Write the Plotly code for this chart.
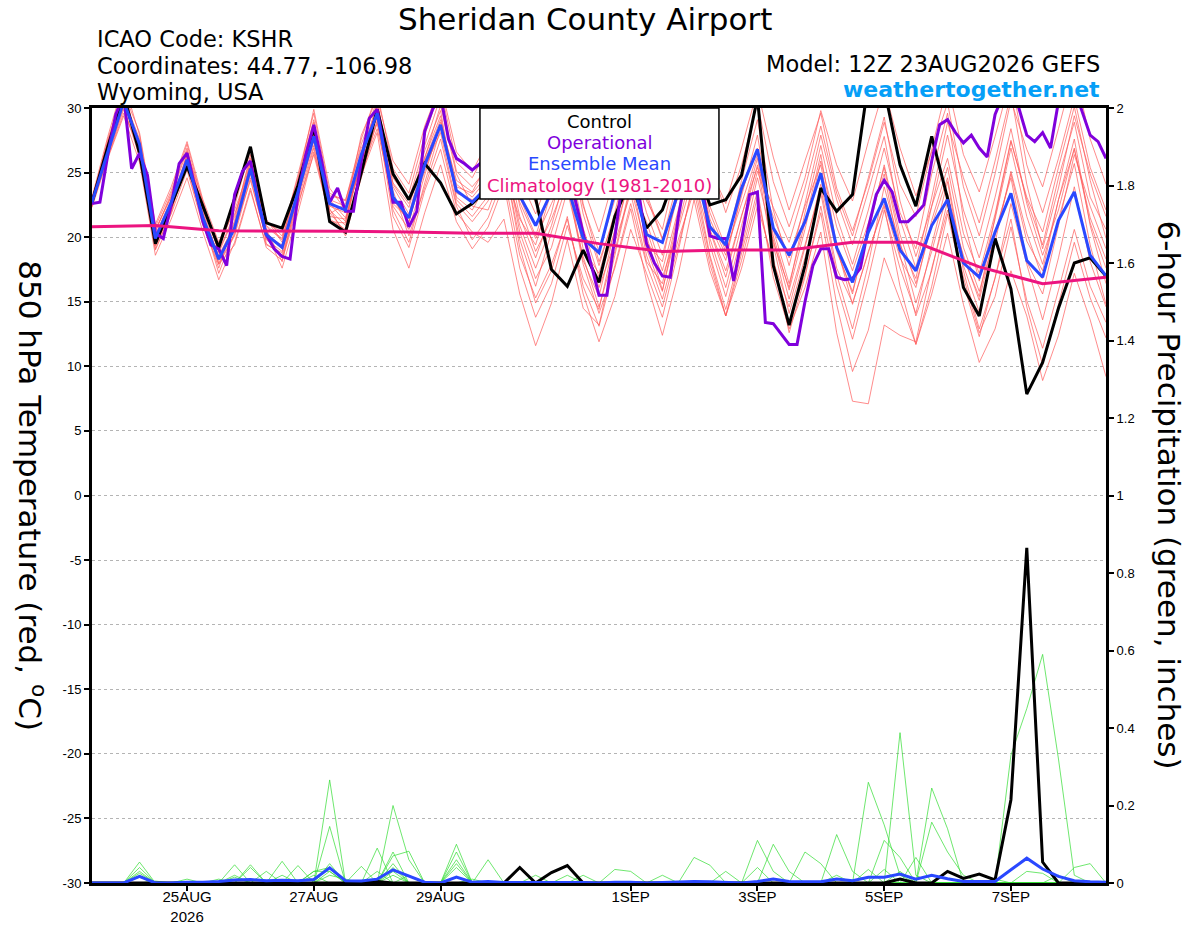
"""
Sheridan County Airport - GEFS 850 hPa temperature / 6-hour precipitation plume
"""

import pandas as pd
import plotly.graph_objects as go

FONT = 'Liberation Sans, Arial, Helvetica, sans-serif'
WIDE = 'DejaVu Sans, Verdana, sans-serif'

# forecast times: 12Z 23AUG2026, 6-hourly out to 384 h
times = pd.date_range('2026-08-23 12:00', periods=65, freq='6h')
# operational run is 3-hourly
times_op = pd.date_range('2026-08-23 12:00', periods=129, freq='3h')
# climatology is one value per day (12Z)
times_clim = pd.date_range('2026-08-23 12:00', periods=17, freq='24h')

tick_vals = ['2026-08-25', '2026-08-27', '2026-08-29', '2026-09-01',
             '2026-09-03', '2026-09-05', '2026-09-07']
tick_text = ['25AUG<br>2026', '27AUG', '29AUG', '1SEP', '3SEP', '5SEP', '7SEP']

temp_ticks = [30, 25, 20, 15, 10, 5, 0, -5, -10, -15, -20, -25, -30]

# ---- 850 hPa temperature (C) ----
control_temp = [22.7, 27.0, 31.0, 26.5, 19.5, 22.5, 25.5, 22.4, 19.2, 23.0,
                27.0, 21.1, 20.7, 24.0, 28.5, 21.2, 20.4, 25.0, 29.9, 24.9,
                22.9, 25.7, 24.2, 21.8, 22.6, 23.8, 24.5, 25.0, 23.0, 17.5,
                16.2, 19.0, 16.5, 21.6, 24.5, 20.7, 22.1, 25.5, 26.0, 22.5,
                22.9, 24.8, 30.8, 17.8, 13.2, 17.8, 23.8, 22.0, 23.3, 32.0,
                31.5, 25.6, 22.4, 27.8, 23.0, 16.1, 13.9, 19.9, 16.0, 7.85,
                10.3, 14.5, 18.0, 18.4, 17.0]

mean_temp = [22.7, 26.6, 30.5, 27.2, 19.9, 22.7, 26.0, 21.5, 18.3, 20.7,
             25.3, 20.2, 19.2, 23.5, 27.8, 22.6, 22.1, 26.4, 29.6, 23.1,
             21.5, 25.6, 28.7, 23.6, 22.7, 24.0, 24.5, 23.2, 20.9, 23.5,
             24.0, 19.9, 18.8, 23.5, 25.0, 20.2, 19.6, 23.5, 25.5, 20.8,
             19.4, 23.8, 26.8, 20.7, 18.6, 21.2, 24.95, 19.2, 16.5, 20.4,
             23.0, 19.0, 17.4, 20.9, 22.9, 18.0, 16.9, 20.4, 23.4, 18.2,
             16.9, 21.3, 23.5, 18.6, 17.0]

operational_temp = [22.6, 22.7, 26.4, 29.5, 31.0, 25.3, 26.5, 24.8, 20.3, 19.9,
                    22.5, 25.7, 26.5, 23.8, 21.2, 19.4, 19.1, 17.8, 23.3, 25.1,
                    25.9, 22.7, 20.2, 19.1, 18.5, 18.3, 23.3, 26.4, 28.7, 25.9,
                    22.7, 23.8, 22.0, 22.0, 25.9, 29.2, 29.9, 26.4, 22.7, 22.7,
                    20.8, 22.0, 28.2, 29.9, 31.0, 27.6, 26.1, 25.7, 25.2, 25.7,
                    26.0, 25.0, 24.5, 26.0, 27.0, 27.5, 26.0, 24.5, 24.0, 25.0,
                    24.5, 22.9, 20.3, 17.9, 15.5, 15.5, 19.8, 24.5, 25.5, 23.5,
                    19.5, 18.0, 17.0, 16.9, 21.5, 25.0, 26.0, 24.0, 20.1, 19.9,
                    19.9, 16.6, 19.8, 23.3, 23.5, 13.4, 13.3, 12.5, 11.7, 11.7,
                    15.0, 17.8, 19.1, 19.1, 16.9, 16.7, 16.8, 17.6, 20.7, 23.3,
                    24.4, 23.5, 21.2, 21.2, 21.8, 22.5, 25.9, 28.7, 29.1, 28.1,
                    27.3, 27.9, 26.9, 26.2, 29.5, 31.0, 31.5, 30.0, 27.9, 27.4,
                    28.1, 26.9, 30.5, 32.0, 31.5, 29.7, 27.9, 27.4, 26.1]

climo_temp = [20.8, 20.9, 20.5, 20.5, 20.45, 20.4, 20.3, 20.3, 19.5,
              18.9, 19.0, 19.0, 19.6, 19.6, 17.7, 16.4, 16.9]

# ensemble members (thin red)
m01 = [22.5, 26.9, 30.8, 27.6, 20.5, 23.2, 26.7, 21.9, 18.0, 20.2, 25.9, 20.8, 19.8, 24.1, 28.6, 22.9, 21.5,
       25.8, 29.4, 22.4, 20.6, 24.8, 28.9, 24.4, 23.5, 25.8, 27.9, 22.7, 19.9, 22.6, 25.3, 19.1, 17.2, 21.4,
       25.8, 19.6, 18.1, 23.9, 27.4, 21.0, 18.2, 23.5, 26.9, 19.8, 15.2, 19.4, 23.8, 17.6, 14.9, 18.8, 22.6,
       18.4, 16.1, 21.3, 25.4, 19.2, 15.8, 20.1, 24.9, 19.7, 17.4, 22.9, 26.8, 21.5, 18.3]
m02 = [22.9, 27.4, 31.5, 26.8, 19.4, 22.1, 25.6, 21.2, 17.6, 21.3, 26.4, 19.5, 18.6, 22.8, 27.1, 21.8, 22.6,
       27.2, 30.6, 24.1, 22.3, 26.7, 29.8, 22.9, 21.6, 23.2, 26.5, 20.4, 16.8, 19.2, 23.6, 18.5, 14.6, 18.9,
       24.1, 21.2, 17.4, 22.1, 26.3, 20.5, 16.9, 21.7, 25.4, 22.3, 19.6, 23.8, 28.6, 23.4, 20.1, 24.6, 29.3,
       22.8, 18.5, 22.4, 26.1, 20.3, 17.2, 21.8, 27.5, 22.9, 19.4, 24.6, 28.9, 23.1, 20.6]
m03 = [22.4, 26.2, 29.6, 26.9, 20.2, 22.9, 26.3, 22.4, 18.9, 21.8, 25.1, 20.6, 18.1, 23.4, 27.9, 22.1, 20.9,
       26.1, 29.9, 23.6, 20.1, 23.9, 27.6, 22.4, 19.8, 21.5, 24.7, 18.6, 15.3, 17.9, 21.4, 16.2, 13.1, 17.8,
       22.6, 17.9, 14.6, 19.3, 24.2, 18.4, 13.9, 18.2, 23.1, 17.6, 13.4, 17.1, 21.9, 14.8, 9.6, 12.8, 18.4,
       15.1, 11.7, 16.2, 21.8, 16.4, 12.3, 16.9, 21.4, 14.6, 10.1, 14.8, 19.6, 15.3, 12.2]
m04 = [23.1, 27.8, 32.0, 27.9, 20.8, 23.6, 27.2, 22.6, 19.1, 22.4, 26.8, 21.3, 20.1, 24.9, 29.6, 23.4, 22.8,
       27.6, 31.2, 25.3, 23.4, 27.9, 31.5, 25.8, 24.6, 26.9, 29.8, 24.6, 21.8, 25.1, 28.7, 23.9, 20.4, 24.8,
       29.2, 23.1, 19.8, 24.5, 30.1, 25.4, 22.6, 26.9, 31.4, 26.2, 22.1, 25.9, 29.6, 23.8, 20.5, 24.3, 28.9,
       24.1, 21.6, 26.8, 31.9, 26.4, 23.5, 27.8, 32.4, 25.6, 21.9, 26.1, 30.8, 25.4, 22.1]
m05 = [22.6, 26.4, 30.1, 26.2, 19.1, 21.8, 25.2, 20.9, 17.9, 20.1, 24.6, 19.8, 18.9, 23.1, 27.6, 23.2, 22.9,
       26.9, 29.2, 21.6, 19.2, 23.6, 26.8, 21.9, 20.4, 19.6, 21.4, 15.6, 11.6, 14.9, 19.8, 14.5, 13.2, 18.6,
       23.9, 19.1, 15.8, 21.6, 26.8, 21.4, 18.6, 23.2, 27.9, 20.6, 16.4, 21.1, 26.4, 19.3, 14.8, 18.9, 22.4,
       16.2, 11.7, 15.6, 20.3, 14.8, 10.3, 12.9, 17.4, 13.9, 8.9, 12.4, 17.2, 13.6, 9.2]
m06 = [22.8, 27.1, 30.6, 27.3, 20.1, 22.6, 26.1, 21.6, 18.6, 20.9, 25.6, 20.1, 19.4, 23.9, 28.4, 22.4, 21.9,
       25.4, 28.8, 23.9, 21.8, 26.2, 29.4, 23.1, 22.1, 24.3, 27.2, 21.6, 18.4, 21.9, 26.8, 20.7, 16.9, 20.4,
       24.8, 18.6, 15.2, 19.8, 23.6, 17.9, 13.9, 17.6, 22.4, 18.1, 14.6, 19.2, 24.1, 18.9, 15.8, 20.4, 25.6,
       20.2, 16.4, 20.9, 24.6, 17.8, 14.2, 19.6, 25.1, 20.3, 16.8, 21.4, 25.7, 19.4, 14.8]
m07 = [22.3, 26.1, 29.4, 25.8, 18.6, 21.4, 24.6, 20.4, 16.7, 19.6, 23.8, 19.2, 18.2, 22.4, 26.9, 21.4, 20.6,
       25.1, 28.4, 22.9, 21.2, 25.4, 28.1, 22.6, 21.2, 22.8, 25.9, 19.8, 16.2, 20.4, 24.2, 17.9, 14.1, 17.6,
       22.2, 16.6, 12.4, 17.1, 22.9, 17.4, 13.9, 18.8, 23.6, 16.9, 12.9, 16.1, 20.4, 12.6, 7.3, 7.1, 13.2,
       12.4, 11.9, 17.6, 22.1, 16.9, 12.6, 15.4, 20.8, 15.1, 11.4, 15.9, 20.6, 16.2, 13.4]
m08 = [22.7, 26.7, 30.4, 27.1, 20.4, 23.4, 26.9, 22.1, 18.4, 21.1, 25.9, 21.1, 20.4, 24.6, 29.1, 22.6, 21.2,
       26.4, 30.2, 24.6, 22.9, 27.1, 30.9, 25.1, 23.9, 25.4, 28.6, 23.1, 20.1, 23.9, 28.1, 22.4, 18.9, 22.9,
       27.6, 22.8, 20.6, 25.9, 31.2, 25.8, 21.9, 25.6, 30.4, 24.3, 20.8, 24.6, 29.8, 25.6, 22.8, 27.4, 31.6,
       26.9, 23.2, 26.6, 30.4, 23.9, 20.1, 24.9, 30.6, 26.8, 23.9, 28.4, 33.1, 27.6, 24.1]
m09 = [22.5, 26.5, 30.9, 26.4, 19.8, 22.2, 25.8, 21.4, 17.2, 20.4, 24.9, 20.4, 19.1, 23.2, 27.4, 22.9, 22.4,
       26.6, 29.8, 22.1, 19.6, 24.2, 28.4, 23.4, 22.9, 23.6, 26.1, 19.2, 14.9, 17.4, 21.6, 15.6, 11.9, 15.4,
       20.6, 17.2, 13.8, 18.9, 24.6, 19.9, 16.1, 20.9, 25.6, 18.4, 12.6, 16.9, 22.4, 16.3, 12.1, 16.8, 22.1,
       17.6, 14.1, 19.4, 24.3, 17.4, 12.9, 16.8, 22.6, 17.9, 13.6, 18.4, 23.9, 18.1, 14.6]
m10 = [22.9, 27.6, 31.2, 28.1, 21.0, 23.9, 27.4, 22.9, 19.6, 22.8, 26.9, 21.4, 19.6, 24.4, 29.9, 23.8, 22.1,
       27.9, 30.8, 25.9, 24.1, 28.6, 31.8, 26.6, 25.1, 27.4, 30.6, 25.8, 22.6, 25.4, 29.4, 22.6, 18.1, 21.6,
       26.4, 21.9, 18.6, 23.4, 28.1, 22.4, 19.2, 24.4, 29.1, 22.1, 17.8, 22.6, 27.9, 22.9, 19.4, 23.6, 27.8,
       21.4, 17.6, 23.1, 28.9, 24.6, 21.1, 25.9, 31.1, 24.1, 19.1, 23.8, 29.4, 24.9, 21.6]
m11 = [22.6, 26.3, 29.9, 26.6, 19.6, 22.4, 25.4, 21.1, 18.2, 20.6, 24.4, 19.9, 18.4, 22.6, 26.4, 21.6, 21.4,
       25.9, 28.9, 22.6, 21.4, 25.1, 28.6, 23.9, 23.4, 24.9, 26.4, 20.9, 17.6, 20.9, 25.2, 19.9, 16.1, 19.6,
       23.4, 18.1, 16.4, 21.9, 27.1, 21.9, 18.9, 22.6, 26.4, 20.1, 15.9, 20.6, 25.9, 20.8, 17.4, 21.1, 24.9,
       18.6, 13.9, 17.4, 22.8, 18.6, 15.1, 20.4, 24.6, 18.1, 15.6, 20.9, 26.4, 22.4, 19.1]
m12 = [22.8, 27.2, 31.8, 26.1, 19.0, 21.9, 26.4, 22.2, 19.4, 22.1, 25.4, 20.4, 17.6, 21.9, 26.6, 21.9, 20.4,
       24.8, 28.1, 20.6, 17.6, 21.9, 25.6, 21.2, 19.1, 20.8, 24.1, 17.6, 13.8, 16.4, 20.9, 16.8, 14.4, 19.9,
       25.1, 20.6, 16.9, 20.6, 24.9, 18.6, 14.4, 19.1, 24.6, 19.6, 16.1, 21.9, 27.1, 21.6, 17.9, 22.1, 26.9,
       21.9, 19.1, 24.9, 29.6, 21.4, 16.6, 21.4, 26.9, 21.6, 17.9, 22.9, 27.6, 20.9, 16.4]
m13 = [22.4, 26.8, 30.3, 27.4, 20.6, 23.1, 25.9, 21.8, 17.9, 19.4, 23.6, 19.4, 18.8, 23.6, 28.9, 22.2, 20.1,
       24.6, 29.1, 24.2, 22.6, 26.1, 30.2, 24.9, 22.4, 22.1, 25.4, 21.4, 19.4, 23.6, 27.9, 21.8, 17.8, 21.9,
       27.1, 23.4, 19.9, 23.1, 26.9, 19.4, 15.4, 20.1, 25.1, 21.6, 18.4, 22.4, 25.6, 19.1, 15.6, 20.9, 25.4,
       19.6, 14.9, 18.9, 23.4, 18.4, 15.4, 21.6, 27.4, 23.1, 20.4, 25.4, 30.1, 24.4, 19.9]
m14 = [23.0, 27.3, 30.7, 26.6, 19.3, 22.0, 26.6, 22.8, 18.8, 21.6, 26.1, 20.9, 19.9, 24.2, 27.6, 21.2, 21.1,
       26.2, 30.4, 23.1, 21.1, 25.9, 29.1, 24.1, 23.1, 24.6, 28.1, 22.4, 18.9, 21.4, 24.6, 18.2, 15.4, 20.6,
       26.1, 20.1, 15.9, 20.9, 25.9, 20.6, 17.4, 21.6, 26.1, 19.4, 14.1, 18.4, 23.4, 17.1, 12.9, 17.9, 23.9,
       19.4, 16.8, 22.4, 27.9, 22.1, 18.4, 23.1, 28.4, 22.6, 18.6, 22.1, 26.9, 21.1, 17.6]
temp_members = [m01, m02, m03, m04, m05, m06, m07, m08, m09, m10, m11, m12, m13, m14]

# ---- 6-hour precipitation (inches) ----
control_precip = [0, 0, 0, 0, 0, 0, 0, 0, 0, 0,
                  0, 0, 0, 0, 0, 0, 0, 0, 0.004, 0,
                  0, 0, 0, 0, 0, 0, 0, 0.04, 0, 0.027,
                  0.045, 0, 0, 0, 0, 0, 0, 0, 0, 0,
                  0, 0, 0, 0, 0, 0, 0, 0, 0, 0,
                  0, 0.01, 0, 0, 0.03, 0.012, 0.023, 0.008, 0.215, 0.865,
                  0.054, 0, 0, 0, 0]

mean_precip = [0, 0, 0, 0.017, 0, 0, 0.002, 0.002, 0.004, 0.008,
               0.009, 0.006, 0.007, 0.006, 0.009, 0.039, 0.006, 0.005, 0.01, 0.034,
               0.017, 0.002, 0, 0.015, 0.002, 0.004, 0.001, 0.001, 0.002, 0.001,
               0.002, 0.001, 0, 0.002, 0.002, 0, 0.001, 0.002, 0.004, 0.003,
               0.001, 0, 0.004, 0.01, 0.004, 0.004, 0.003, 0.01, 0.006, 0.015,
               0.015, 0.023, 0.01, 0.02, 0.011, 0.004, 0.004, 0.004, 0.034, 0.064,
               0.036, 0.017, 0.006, 0.003, 0.002]

# ensemble members (thin green)
p01 = [0, 0, 0, 0.054, 0, 0, 0, 0, 0, 0, 0.047, 0, 0, 0, 0, 0.266, 0, 0, 0, 0.08,
       0, 0, 0, 0.1, 0, 0, 0, 0, 0, 0, 0, 0, 0, 0, 0, 0, 0, 0, 0, 0,
       0, 0, 0, 0, 0, 0, 0, 0, 0, 0.035, 0, 0, 0, 0.245, 0.14, 0, 0, 0, 0.33, 0.45,
       0.59, 0.32, 0.02, 0, 0]
p02 = [0, 0, 0, 0.04, 0, 0, 0, 0, 0, 0.047, 0, 0, 0, 0, 0, 0.146, 0, 0, 0, 0.2,
       0.06, 0, 0, 0, 0, 0, 0, 0, 0, 0, 0, 0, 0, 0, 0, 0, 0, 0, 0, 0,
       0, 0, 0.11, 0.03, 0, 0, 0, 0, 0, 0, 0, 0.388, 0.02, 0, 0, 0, 0, 0, 0, 0,
       0, 0, 0, 0, 0]
p03 = [0, 0, 0, 0.03, 0, 0, 0, 0, 0, 0, 0, 0, 0.056, 0, 0, 0.05, 0, 0, 0.09, 0,
       0, 0, 0, 0.08, 0, 0, 0, 0, 0, 0, 0, 0, 0, 0, 0, 0, 0, 0, 0, 0,
       0, 0, 0, 0, 0, 0, 0, 0, 0, 0.26, 0.15, 0.02, 0, 0, 0, 0, 0, 0, 0, 0,
       0, 0, 0, 0, 0]
p04 = [0, 0, 0, 0.025, 0, 0, 0, 0, 0, 0, 0, 0.03, 0, 0, 0.03, 0.04, 0, 0, 0, 0.07,
       0.082, 0, 0, 0, 0, 0.06, 0, 0, 0, 0, 0, 0, 0, 0, 0, 0, 0, 0, 0, 0,
       0, 0, 0, 0.1, 0.03, 0, 0, 0, 0, 0, 0, 0, 0, 0, 0, 0, 0, 0, 0, 0,
       0, 0, 0, 0, 0]
p05 = [0, 0, 0, 0.015, 0, 0, 0, 0, 0, 0, 0, 0, 0, 0.045, 0, 0.03, 0, 0.043, 0, 0,
       0, 0, 0, 0.06, 0, 0, 0, 0, 0, 0, 0, 0, 0, 0, 0, 0, 0, 0, 0.066, 0.046,
       0, 0, 0, 0, 0, 0, 0, 0, 0, 0, 0, 0, 0, 0.157, 0.08, 0.02, 0, 0, 0, 0,
       0, 0, 0, 0, 0]
p06 = [0, 0, 0, 0, 0, 0, 0, 0, 0.01, 0, 0.04, 0, 0, 0, 0.02, 0, 0, 0, 0, 0.05,
       0, 0, 0, 0.05, 0, 0, 0, 0, 0, 0, 0, 0, 0, 0.035, 0.03, 0, 0, 0, 0, 0,
       0, 0, 0, 0, 0, 0, 0, 0.125, 0.03, 0, 0.11, 0.066, 0, 0, 0, 0, 0, 0, 0, 0,
       0, 0, 0, 0, 0]
p07 = [0, 0, 0, 0, 0, 0, 0, 0, 0, 0.02, 0, 0, 0, 0, 0, 0.02, 0.01, 0, 0, 0.04,
       0, 0, 0, 0.04, 0, 0, 0, 0, 0.02, 0, 0, 0, 0, 0, 0, 0, 0, 0, 0, 0,
       0, 0, 0, 0, 0, 0.08, 0.05, 0, 0, 0, 0, 0, 0.066, 0, 0, 0, 0, 0, 0, 0.03,
       0.025, 0, 0, 0, 0]
p08 = [0, 0, 0, 0, 0, 0, 0.01, 0, 0, 0, 0, 0, 0.02, 0, 0, 0, 0, 0, 0.03, 0,
       0.02, 0, 0, 0, 0, 0, 0, 0, 0, 0, 0.02, 0, 0, 0, 0, 0, 0, 0, 0, 0,
       0, 0, 0.04, 0, 0, 0, 0, 0, 0, 0, 0.035, 0, 0, 0, 0, 0, 0, 0, 0, 0,
       0, 0, 0.04, 0.05, 0]
p09 = [0, 0, 0, 0, 0, 0, 0, 0, 0, 0, 0, 0, 0, 0, 0.03, 0.03, 0, 0, 0, 0.03,
       0, 0, 0, 0, 0.01, 0, 0, 0, 0, 0, 0, 0, 0, 0, 0, 0, 0.02, 0, 0, 0,
       0.03, 0, 0, 0, 0, 0, 0, 0, 0, 0, 0, 0, 0, 0, 0, 0, 0, 0.01, 0, 0,
       0, 0, 0, 0, 0]
p10 = [0, 0, 0, 0, 0.005, 0, 0, 0, 0, 0.015, 0, 0, 0, 0, 0, 0, 0, 0, 0, 0.02,
       0, 0, 0, 0, 0, 0, 0, 0, 0, 0, 0, 0.02, 0, 0, 0, 0, 0, 0, 0, 0,
       0, 0, 0, 0, 0, 0, 0, 0.02, 0, 0, 0, 0.03, 0, 0, 0, 0, 0, 0, 0, 0,
       0, 0.02, 0, 0, 0]
precip_members = [p01, p02, p03, p04, p05, p06, p07, p08, p09, p10]

RED = '#ff5a5a'
GREEN = '#30dd30'
PURPLE = '#8000dc'
BLUE = '#2a48ff'
MAGENTA = '#ec1480'

fig = go.Figure()

for m in temp_members:
    fig.add_trace(go.Scatter(x=times, y=m, mode='lines',
                             line=dict(color=RED, width=0.7), hoverinfo='skip'))

fig.add_trace(go.Scatter(x=times, y=control_temp, mode='lines', name='Control',
                         line=dict(color='black', width=3)))
fig.add_trace(go.Scatter(x=times_op, y=operational_temp, mode='lines', name='Operational',
                         line=dict(color=PURPLE, width=3)))
fig.add_trace(go.Scatter(x=times, y=mean_temp, mode='lines', name='Ensemble Mean',
                         line=dict(color=BLUE, width=3)))
fig.add_trace(go.Scatter(x=times_clim, y=climo_temp, mode='lines', name='Climatology',
                         line=dict(color=MAGENTA, width=3)))

for p in precip_members:
    fig.add_trace(go.Scatter(x=times, y=p, mode='lines', yaxis='y2',
                             line=dict(color=GREEN, width=0.7), hoverinfo='skip'))

fig.add_trace(go.Scatter(x=times, y=control_precip, mode='lines', yaxis='y2',
                         line=dict(color='black', width=3)))
fig.add_trace(go.Scatter(x=times, y=mean_precip, mode='lines', yaxis='y2',
                         line=dict(color=BLUE, width=3)))

# plot box at x 92..1106, y 108..883
fig.update_layout(
    width=1200,
    height=927,
    margin=dict(l=92, r=94, t=108, b=44, autoexpand=False),
    plot_bgcolor='white',
    paper_bgcolor='white',
    showlegend=False,
    font=dict(family=FONT, color='black', size=13),
    xaxis=dict(range=[times[0], times[-1]], tickvals=tick_vals, ticktext=tick_text,
               ticks='outside', ticklen=5, tickwidth=1.5, tickcolor='black',
               ticklabelstandoff=-7,
               showgrid=False, showline=True, linecolor='black', linewidth=3,
               mirror=True, tickfont=dict(size=15), automargin=False),
    yaxis=dict(range=[-30, 30], tickvals=temp_ticks, ticktext=[str(t) for t in temp_ticks],
               ticks='outside', ticklen=5, tickwidth=1.5, tickcolor='black',
               showgrid=True, gridcolor='#b4b4b4', griddash='dot', gridwidth=1,
               showline=True, linecolor='black', linewidth=3, zeroline=False,
               tickfont=dict(size=13), automargin=False),
    yaxis2=dict(range=[0, 2], dtick=0.2, overlaying='y', side='right',
                ticks='outside', ticklen=5, tickwidth=1.5, tickcolor='black',
                showgrid=False, showline=True, linecolor='black', linewidth=3,
                zeroline=False, tickfont=dict(size=13), automargin=False),
)

# titles and station info (paper coords relative to the plot box)
fig.add_annotation(text='Sheridan County Airport', x=0.486, y=1.1142, xref='paper', yref='paper',
                   showarrow=False, font=dict(family=WIDE, size=31), xanchor='center',
                   yanchor='middle')
for txt, yy in [('ICAO Code: KSHR', 1.089), ('Coordinates: 44.77, -106.98', 1.054),
                ('Wyoming, USA', 1.0206)]:
    fig.add_annotation(text=txt, x=0.003, y=yy, xref='paper', yref='paper', showarrow=False,
                       font=dict(family=WIDE, size=22.5), xanchor='left', yanchor='middle')
fig.add_annotation(text='Model: 12Z 23AUG2026 GEFS', x=0.996, y=1.057, xref='paper', yref='paper',
                   showarrow=False, font=dict(family=WIDE, size=22.5), xanchor='right',
                   yanchor='middle')
fig.add_annotation(text='<b>weathertogether.net</b>', x=0.996, y=1.0235, xref='paper', yref='paper',
                   showarrow=False, font=dict(family=WIDE, size=22, color='#069ff7'),
                   xanchor='right', yanchor='middle')

# axis titles, both read top to bottom
fig.add_annotation(text='850 hPa Temperature (red, <sup>o</sup>C)', x=-0.059, y=0.5,
                   xref='paper', yref='paper', showarrow=False, textangle=90,
                   font=dict(family=WIDE, size=31), xanchor='center', yanchor='middle')
fig.add_annotation(text='6-hour Precipitation (green, inches)', x=1.063, y=0.5,
                   xref='paper', yref='paper', showarrow=False, textangle=90,
                   font=dict(family=WIDE, size=31), xanchor='center', yanchor='middle')

# legend box
fig.add_shape(type='rect', xref='paper', yref='paper', x0=0.3826, x1=0.6183, y0=0.8826, y1=1.0,
              fillcolor='white', line=dict(color='black', width=1.5), layer='above')
legend_rows = [('Control', 'black', 0.9832),
               ('Operational', PURPLE, 0.9561),
               ('Ensemble Mean', BLUE, 0.9290),
               ('Climatology (1981-2010)', MAGENTA, 0.9006)]
for txt, col, yy in legend_rows:
    fig.add_annotation(text=txt, x=0.5005, y=yy, xref='paper', yref='paper', showarrow=False,
                       font=dict(family=WIDE, size=18, color=col),
                       xanchor='center', yanchor='middle')

# the page body has a default 8 px margin; drop it so the figure fills the window
fig.write_html("out.html", config={'displayModeBar': False},
               post_script="document.body.style.margin = '0';")
